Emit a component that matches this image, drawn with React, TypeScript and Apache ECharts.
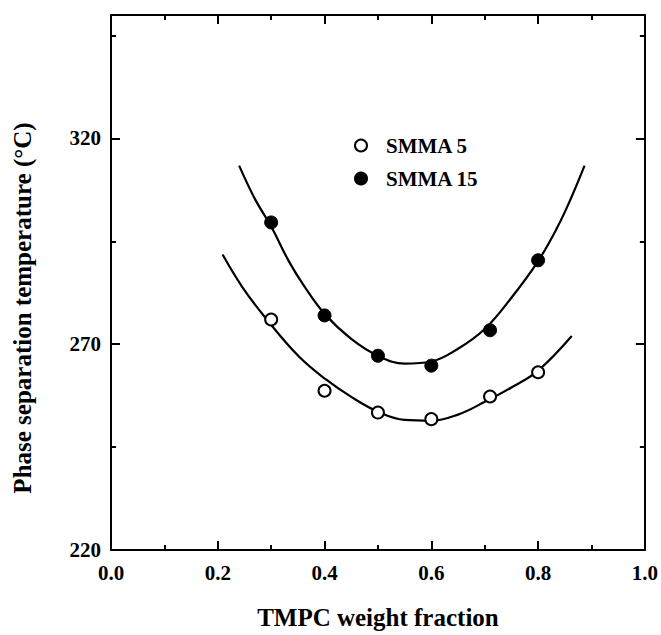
import React, { useEffect, useRef } from "react";
import * as echarts from "echarts";

const seriesNames = ["SMMA 5", "SMMA 15"];
const xTickValues = [0, 0.2, 0.4, 0.6, 0.8, 1.0];
const yLabelValues = [220, 270, 320];

// measured points [TMPC weight fraction, temperature °C]
const smma5Points = [
  [0.3, 276.0],
  [0.4, 258.7],
  [0.5, 253.4],
  [0.6, 251.8],
  [0.71, 257.3],
  [0.8, 263.2],
];
const smma15Points = [
  [0.3, 299.6],
  [0.4, 277.0],
  [0.5, 267.2],
  [0.6, 264.8],
  [0.71, 273.4],
  [0.8, 290.4],
];

// fitted curves
const smma5Curve = [
  [0.209, 291.8],
  [0.246, 283.9],
  [0.29, 276.3],
  [0.352, 267.0],
  [0.402, 261.5],
  [0.45, 257.2],
  [0.5, 253.6],
  [0.55, 251.6],
  [0.6, 251.4],
  [0.65, 252.9],
  [0.7, 256.0],
  [0.75, 259.5],
  [0.8, 263.6],
  [0.863, 272.0],
];
const smma15Curve = [
  [0.24, 313.4],
  [0.27, 305.2],
  [0.3, 298.6],
  [0.333, 290.2],
  [0.36, 284.5],
  [0.4, 277.4],
  [0.45, 271.3],
  [0.5, 267.2],
  [0.55, 265.3],
  [0.6, 265.8],
  [0.65, 268.9],
  [0.7, 273.7],
  [0.75, 281.3],
  [0.8, 290.2],
  [0.836, 298.4],
  [0.862, 305.6],
  [0.887, 313.4],
];

const FONT = "'Liberation Serif', 'DejaVu Serif', serif";

export default function App() {
  const ref = useRef<HTMLDivElement>(null);
  useEffect(() => {
    if (!ref.current) return;
    const chart = echarts.init(ref.current, null, { renderer: "svg" });
    const axisLine = { show: true, lineStyle: { color: "#000", width: 2 } };
    const xMajor = (pos: "bottom" | "top", labels: boolean) => ({
      type: "value",
      position: pos,
      min: 0,
      max: 1,
      interval: 0.2,
      axisLine,
      axisTick: { show: true, inside: true, length: 9, lineStyle: { color: "#000", width: 2 } },
      minorTick: { show: true, splitNumber: 2, length: 5, lineStyle: { color: "#000", width: 2 } },
      splitLine: { show: false },
      minorSplitLine: { show: false },
      axisLabel: labels
        ? {
            show: true,
            margin: 12,
            fontFamily: FONT,
            fontWeight: "bold",
            fontSize: 21,
            color: "#000",
            formatter: (v: number) =>
              xTickValues.some((t) => Math.abs(t - v) < 1e-9) ? v.toFixed(1) : "",
          }
        : { show: false },
      name: labels ? "TMPC weight fraction" : "",
      nameLocation: "middle",
      nameGap: 55,
      nameTextStyle: { fontFamily: FONT, fontWeight: "bold", fontSize: 25, color: "#000" },
    });
    const yAxisDef = (
      pos: "left" | "right",
      interval: number,
      tickLen: number,
      showLine: boolean,
      labels: boolean
    ) => ({
      type: "value",
      position: pos,
      min: 220,
      max: 350,
      interval,
      axisLine: showLine ? axisLine : { show: false },
      axisTick: { show: true, inside: true, length: tickLen, lineStyle: { color: "#000", width: 2 } },
      splitLine: { show: false },
      axisLabel: labels
        ? {
            show: true,
            margin: 10,
            fontFamily: FONT,
            fontWeight: "bold",
            fontSize: 21,
            color: "#000",
            formatter: (v: number) => (yLabelValues.includes(v) ? String(v) : ""),
          }
        : { show: false },
    });

    chart.setOption({
      animation: false,
      backgroundColor: "#fff",
      grid: { left: 111, right: 12, top: 15, bottom: 77, containLabel: false },
      xAxis: [xMajor("bottom", true), xMajor("top", false)],
      yAxis: [
        yAxisDef("left", 50, 9, true, true),
        yAxisDef("left", 25, 5, false, false),
        yAxisDef("right", 50, 9, true, false),
        yAxisDef("right", 25, 5, false, false),
      ],
      legend: {
        data: seriesNames,
        orient: "vertical",
        left: 349,
        top: 130,
        itemWidth: 12,
        itemHeight: 12,
        itemGap: 12,
        icon: "circle",
        textStyle: {
          fontFamily: FONT,
          fontWeight: "bold",
          fontSize: 21,
          color: "#000",
          padding: [0, 0, 0, 14],
        },
      },
      graphic: [
        {
          type: "text",
          x: 22,
          y: 308,
          rotation: Math.PI / 2,
          style: {
            text: "Phase separation temperature (°C)",
            fontFamily: FONT,
            fontWeight: "bold",
            fontSize: 25,
            fill: "#000",
            align: "center",
            verticalAlign: "middle",
          },
        },
      ],
      series: [
        {
          name: "curve5",
          type: "line",
          data: smma5Curve,
          smooth: 0.4,
          showSymbol: false,
          lineStyle: { color: "#000", width: 2.2 },
          z: 1,
          silent: true,
        },
        {
          name: "curve15",
          type: "line",
          data: smma15Curve,
          smooth: 0.4,
          showSymbol: false,
          lineStyle: { color: "#000", width: 2.2 },
          z: 1,
          silent: true,
        },
        {
          name: seriesNames[0],
          type: "scatter",
          data: smma5Points,
          symbol: "circle",
          symbolSize: 12,
          itemStyle: { color: "#fff", borderColor: "#000", borderWidth: 2, opacity: 1 },
          z: 3,
        },
        {
          name: seriesNames[1],
          type: "scatter",
          data: smma15Points,
          symbol: "circle",
          symbolSize: 13,
          itemStyle: { color: "#000", borderColor: "#000", borderWidth: 1, opacity: 1 },
          z: 3,
        },
      ],
    });
    return () => chart.dispose();
  }, []);
  return <div ref={ref} style={{ width: 661, height: 635, position: "absolute", left: 0, top: 0 }} />;
}
